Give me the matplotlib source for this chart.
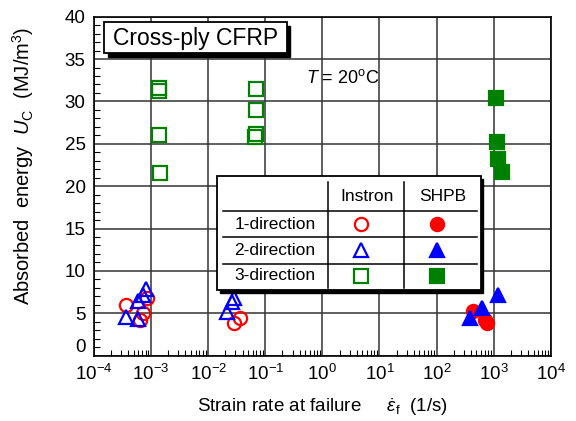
import matplotlib
matplotlib.use("Agg")
import matplotlib.pyplot as plt
from matplotlib.patches import Rectangle
from matplotlib.lines import Line2D
from matplotlib.ticker import LogLocator, NullFormatter, MultipleLocator

plt.rcParams['font.family'] = ['Liberation Sans', 'DejaVu Sans']
plt.rcParams['mathtext.fontset'] = 'custom'
plt.rcParams['mathtext.rm'] = 'Liberation Sans'
plt.rcParams['mathtext.it'] = 'Liberation Sans:italic'
plt.rcParams['mathtext.bf'] = 'Liberation Sans:bold'

# ---- data ----
inst1_x = [3.7e-4, 6.4e-4, 7.1e-4, 8.4e-4, 0.028, 0.036]
inst1_y = [6.0, 4.2, 5.0, 6.8, 3.9, 4.4]
inst2_x = [3.7e-4, 5.9e-4, 5.9e-4, 7.3e-4, 8.0e-4, 0.021, 0.026, 0.028]
inst2_y = [4.6, 4.3, 6.5, 7.2, 7.9, 5.1, 6.3, 6.8]
inst3_x = [1.37e-3, 1.37e-3, 1.37e-3, 1.45e-3, 0.068, 0.068, 0.068, 0.066]
inst3_y = [31.6, 31.2, 26.0, 21.6, 31.5, 29.0, 26.2, 25.8]
shpb1_x = [440, 700, 780]
shpb1_y = [5.3, 4.2, 3.9]
shpb2_x = [385, 630, 1175]
shpb2_y = [4.4, 5.6, 7.1]
shpb3_x = [1080, 1150, 1200, 1400]
shpb3_y = [30.4, 25.2, 23.2, 21.7]

y_ticks = [0, 5, 10, 15, 20, 25, 30, 35, 40]
row_labels = ['1-direction', '2-direction', '3-direction']
col_labels = ['Instron', 'SHPB']
colors = ['#ff0000', '#0000ff', '#008000']
markers = ['o', '^', 's']

W, H = 576, 421
fig = plt.figure(figsize=(W / 100, H / 100), dpi=100)
ax = fig.add_axes([94 / W, 1 - 355.6 / H, (550.7 - 94) / W, (355.6 - 16.7) / H])

ms = 9.5
mew = 1.6
series = [
    (inst1_x, inst1_y, 0, False), (inst2_x, inst2_y, 1, False), (inst3_x, inst3_y, 2, False),
    (shpb1_x, shpb1_y, 0, True), (shpb2_x, shpb2_y, 1, True), (shpb3_x, shpb3_y, 2, True),
]
for xs, ys, k, filled in series:
    ax.plot(xs, ys, linestyle='none', marker=markers[k], ms=ms, mew=mew,
            mec=colors[k], mfc=colors[k] if filled else 'none', zorder=3, clip_on=False)

ax.set_xscale('log')
ax.set_xlim(1e-4, 1e4)
ax.set_ylim(0, 40)
ax.xaxis.set_major_locator(LogLocator(base=10, numticks=20))
ax.xaxis.set_minor_locator(LogLocator(base=10, subs=range(2, 10), numticks=20))
ax.xaxis.set_minor_formatter(NullFormatter())
ax.set_yticks(y_ticks)
ax.yaxis.set_minor_locator(MultipleLocator(1))
ax.tick_params(which='both', direction='in', labelsize=13.5, colors='black')
ax.tick_params(which='major', length=0, pad=6)
ax.tick_params(which='minor', length=4, width=0.8)
ax.grid(True, which='major', color='#333333', linewidth=1.1)
for s in ax.spines.values():
    s.set_linewidth(1.2)
# lift the "0" label like the reference
ax.yaxis.get_major_ticks()[0].label1.set_verticalalignment('bottom')

ax.set_xlabel(r'Strain rate at failure     $\dot{\varepsilon}_{\mathrm{f}}$  (1/s)', fontsize=13.5)
ax.xaxis.set_label_coords(0.5, -0.12)
ax.set_ylabel(r'Absorbed  energy  $U_{\mathrm{C}}$  (MJ/m$^3$)', fontsize=14.5)
ax.yaxis.set_label_coords(-0.127, 0.56)

ax.text(0.465, 0.82, r'$T$ = 20$^{\mathrm{o}}$C', transform=ax.transAxes, fontsize=13, va='center')

tr = fig.transFigure
def fx(px):
    return px / W
def fy(py):
    return 1 - py / H

# Title box with shadow
fig.patches.append(Rectangle((fx(108), fy(57)), fx(290) - fx(108), fy(26) - fy(57),
                             transform=tr, facecolor='black', edgecolor='black', zorder=5))
fig.patches.append(Rectangle((fx(104), fy(53)), fx(287) - fx(104), fy(22) - fy(53),
                             transform=tr, facecolor='white', edgecolor='black', lw=1.3, zorder=6))
fig.text(fx(196), fy(38), 'Cross-ply CFRP', fontsize=16.5, ha='center', va='center', zorder=7)

# Legend table with shadow
fig.patches.append(Rectangle((fx(219.5), fy(292.5)), fx(483) - fx(219.5), fy(178.5) - fy(292.5),
                             transform=tr, facecolor='black', edgecolor='black', zorder=5))
fig.patches.append(Rectangle((fx(217), fy(290)), fx(480.5) - fx(217), fy(176) - fy(290),
                             transform=tr, facecolor='white', edgecolor='black', lw=1.3, zorder=6))
for yy in [210.7, 237.3, 264]:
    fig.lines.append(Line2D([fx(223), fx(477)], [fy(yy), fy(yy)], transform=tr, color='black', lw=1.1, zorder=7))
for xx in [328.3, 404]:
    fig.lines.append(Line2D([fx(xx), fx(xx)], [fy(182), fy(288)], transform=tr, color='black', lw=1.1, zorder=7))
fig.text(fx(367), fy(196.5), col_labels[0], fontsize=12.5, ha='center', va='center', zorder=8)
fig.text(fx(443), fy(196.5), col_labels[1], fontsize=12.5, ha='center', va='center', zorder=8)
row_y = [224.3, 250.3, 276]
for k, lab in enumerate(row_labels):
    fig.text(fx(275), fy(row_y[k]), lab, fontsize=12.5, ha='center', va='center', zorder=8)
    fig.lines.append(Line2D([fx(361)], [fy(row_y[k])], transform=tr, linestyle='none', marker=markers[k],
                            ms=ms, mew=mew, mec=colors[k], mfc='none', zorder=8))
    fig.lines.append(Line2D([fx(437)], [fy(row_y[k])], transform=tr, linestyle='none', marker=markers[k],
                            ms=ms, mew=mew, mec=colors[k], mfc=colors[k], zorder=8))

fig.savefig('out.png', dpi=100)
